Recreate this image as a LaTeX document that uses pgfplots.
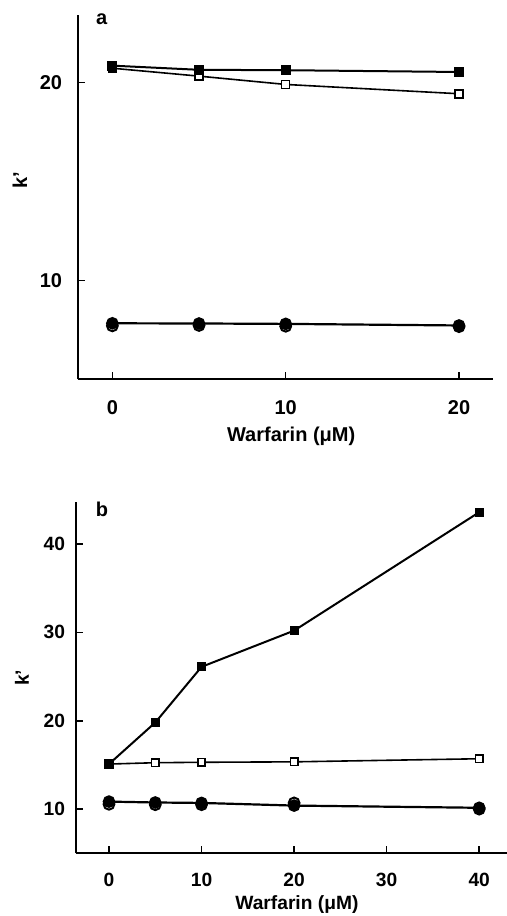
\documentclass[border=0pt]{standalone}
\usepackage{fontspec}
\setmainfont{Liberation Sans}
\usepackage{pgfplots}
\pgfplotsset{compat=1.18}
\begin{document}
\fontsize{10}{12}\selectfont\bfseries
\begin{tikzpicture}
\useasboundingbox (0,0) rectangle (253.5pt,458pt);
\pgfplotsset{
  every axis/.append style={
    scale only axis,
    axis lines=left,
    axis line style={-, line width=1pt},
    enlargelimits=false,
    tick align=inside,
    major tick length=3.5pt,
    every tick/.style={black, line width=0.8pt},
    /pgf/number format/assume math mode=true,
    clip=false,
  },
  sq/.style={black, line width=1pt, mark=square*, mark size=2pt, mark options={solid, fill=black}},
  osq/.style={black, line width=0.8pt, mark=square*, mark size=2pt, mark options={solid, fill=white, line width=0.8pt}},
  oci/.style={black, line width=1pt, mark=*, mark size=2.7pt, mark options={solid, fill=white, line width=1pt}},
  fci/.style={black, line width=1.1pt, mark=*, mark size=2.6pt, mark options={solid, fill=black}},
}
% Panel a
\begin{axis}[
  at={(38.85pt,268.35pt)}, anchor=south west,
  width=207.65pt, height=182.15pt,
  xmin=-2, xmax=21.96, ymin=5, ymax=23.41,
  xtick={0,10,20}, ytick={10,20},
  ticklabel style={font=\fontsize{10}{12}\selectfont\bfseries},
  label style={font=\fontsize{10}{12}\selectfont\bfseries},
  xticklabel style={yshift=-7pt},
  yticklabel style={xshift=-4.3pt},
  xlabel={Warfarin (μM)},
  ylabel={k’},
  xlabel style={at={(axis description cs:0.514,-0.157)}, anchor=center},
  ylabel style={at={(axis description cs:-0.139,0.547)}, anchor=center, rotate=0},
]
\addplot[oci, only marks] coordinates {(0,7.7)(5,7.72)(10,7.68)(20,7.66)};
\addplot[osq] coordinates {(0,20.72)(5,20.32)(10,19.9)(20,19.43)};
\addplot[sq] coordinates {(0,20.85)(5,20.64)(10,20.62)(20,20.53)};
\addplot[fci] coordinates {(0,7.83)(5,7.82)(10,7.8)(20,7.72)};
\node[font=\fontsize{10}{12}\selectfont\bfseries] at (axis cs:-0.62,23.21) {a};
\end{axis}
% Panel b
\begin{axis}[
  at={(38.25pt,31.35pt)}, anchor=south west,
  width=215.25pt, height=175.8pt,
  xmin=-3.51, xmax=43.0, ymin=5, ymax=44.79,
  xtick={0,10,20,30,40}, ytick={10,20,30,40},
  ticklabel style={font=\fontsize{9.6}{11}\selectfont\bfseries},
  label style={font=\fontsize{9.6}{11}\selectfont\bfseries},
  xticklabel style={yshift=-6.3pt},
  yticklabel style={xshift=-2.2pt},
  xlabel={Warfarin (μM)},
  ylabel={k’},
  xlabel style={at={(axis description cs:0.512,-0.147)}, anchor=center},
  ylabel style={at={(axis description cs:-0.127,0.499)}, anchor=center, rotate=0},
]
\addplot[oci, only marks] coordinates {(0,10.55)(5,10.5)(10,10.5)(20,10.7)(40,10.0)};
\addplot[osq, mark size=1.8pt] coordinates {(0,15.1)(5,15.25)(10,15.3)(20,15.35)(40,15.7)};
\addplot[sq, mark size=1.8pt] coordinates {(0,15.1)(5,19.8)(10,26.1)(20,30.2)(40,43.6)};
\addplot[fci] coordinates {(0,10.85)(5,10.75)(10,10.7)(20,10.4)(40,10.15)};
\node[font=\fontsize{10}{12}\selectfont\bfseries] at (axis cs:-0.75,43.96) {b};
\end{axis}
\end{tikzpicture}
\end{document}
